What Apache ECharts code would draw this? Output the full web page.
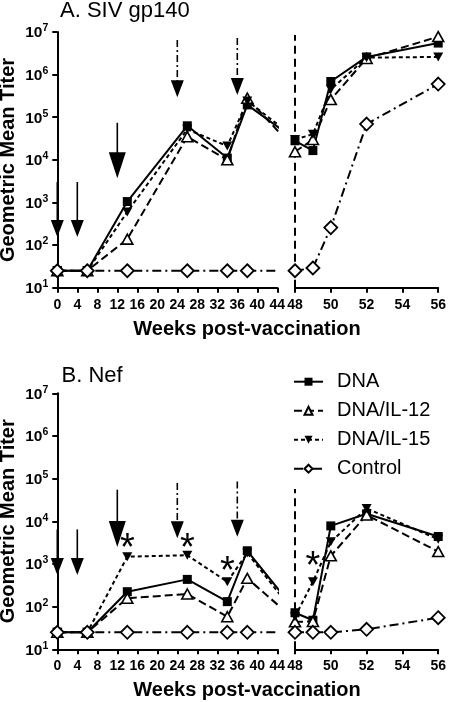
<!DOCTYPE html>
<html><head><meta charset="utf-8">
<script src="https://cdn.jsdelivr.net/npm/echarts@6/dist/echarts.min.js"></script>
<style>html,body{margin:0;padding:0;background:#fff}#c{width:449px;height:702px}</style>
</head><body><div id="c"></div>
<script>
// ---------- data ----------
const weeks = [0, 6, 14, 26, 34, 38, 48, 49, 50, 52, 56];
const seriesNames = ['DNA', 'DNA/IL-12', 'DNA/IL-15', 'Control'];

const gp140DNA     = [25, 25, 1050, 63000, 11000, 195000, 28000, 16500, 690000, 2600000, 5500000];
const gp140IL12    = [25, 25, 138, 35000, 10000, 280000, 15500, 30000, 260000, 2400000, 7800000];
const gp140IL15    = [25, 25, 600, 52000, 21000, 240000, 30000, 40000, 450000, 2500000, 2600000];
const gp140Control = [25, 25, 25, 25, 25, 25, 25, 29, 257, 69000, 600000];

const nefDNA     = [25, 25, 224, 435, 131, 2040, 72, 48, 7800, 15000, 4400];
const nefIL12    = [25, 25, 157, 198, 58, 460, 44, 45, 1550, 14000, 1950];
const nefIL15    = [25, 25, 1480, 1600, 383, 1800, 58, 383, 3300, 20000, 3800];
const nefControl = [25, 25, 25, 25, 25, 25, 25, 25, 25, 29.4, 55];

const xTicksLeft = [0, 4, 8, 12, 16, 20, 24, 28, 32, 36, 40, 44];
const xTicksRight = [48, 50, 52, 54, 56];
const yTickExponents = [1, 2, 3, 4, 5, 6, 7];

const vaccinationWeeks = [0, 4, 12, 24, 36];
const arrowKinds = ['thin', 'thin', 'big', 'dashed', 'dashed'];
const gp140ArrowTop = [3020, 3020, 74100, 6460000, 7240000];
const gp140ArrowTip = [155, 155, 3715, 295000, 331000];
const nefArrowTop = [6460, 6460, 55000, 79400, 85100];
const nefArrowTip = [550, 550, 2510, 3980, 4365];

const challengeWeek = 48;
const gp140ChallengeTop = 8500000;
const nefChallengeTop = 57500;

const nefStarWeeks = [14, 26, 34, 49];
const nefStarValues = [3630, 3630, 1050, 1350];

// ---------- styling ----------
const FONT = '"Liberation Sans", Arial, Helvetica, sans-serif';
const seriesStyle = {
  'DNA': {symbol: 'rect', symbolSize: 9, itemStyle: {color: '#000', borderColor: '#000', borderWidth: 0},
          lineStyle: {color: '#000', width: 2, type: 'solid'}},
  'DNA/IL-12': {symbol: 'triangle', symbolSize: [11, 10], itemStyle: {color: '#fff', borderColor: '#000', borderWidth: 1.6},
          lineStyle: {color: '#000', width: 2, type: [8, 4]}},
  'DNA/IL-15': {symbol: 'triangle', symbolRotate: 180, symbolSize: [10, 9], itemStyle: {color: '#000', borderColor: '#000', borderWidth: 0},
          lineStyle: {color: '#000', width: 2, type: [4, 3]}},
  'Control': {symbol: 'diamond', symbolSize: [13, 13], itemStyle: {color: '#fff', borderColor: '#000', borderWidth: 1.8},
          lineStyle: {color: '#000', width: 2, type: [9, 4, 2, 4]}}
};
const arrowStyle = {
  thin:   {headLen: 17, headW: 13, lw: 1.6, dash: null},
  big:    {headLen: 26, headW: 17, lw: 1.6, dash: null},
  dashed: {headLen: 17, headW: 13, lw: 1.6, dash: [7, 3, 2, 3]}
};

const grids = [
  {left: 57.3, top: 32, width: 220, height: 255.7},
  {left: 295, top: 32, width: 146.7, height: 255.7},
  {left: 57.3, top: 393.3, width: 220, height: 256},
  {left: 295, top: 393.3, width: 146.7, height: 256}
];

const axisLineStyle = {color: '#000', width: 2};
const xAxes = grids.map((g, i) => {
  const left = i % 2 === 0;
  const ticks = left ? xTicksLeft : xTicksRight;
  return {
    type: 'value', gridIndex: i, min: ticks[0], max: ticks[ticks.length - 1],
    interval: ticks[1] - ticks[0],
    axisLine: {show: true, lineStyle: axisLineStyle},
    axisTick: {show: true, length: 5, inside: false, lineStyle: {color: '#000', width: 2}},
    axisLabel: {show: true, margin: 10, fontSize: 14, fontWeight: 'bold', fontFamily: FONT, color: '#000',
                showMinLabel: true, showMaxLabel: true, hideOverlap: false},
    splitLine: {show: false}
  };
});
const yAxes = grids.map((g, i) => {
  const left = i % 2 === 0;
  return {
    type: 'log', logBase: 10, gridIndex: i,
    min: Math.pow(10, yTickExponents[0]), max: Math.pow(10, yTickExponents[yTickExponents.length - 1]),
    splitNumber: yTickExponents.length - 1,
    show: left,
    axisLine: {show: true, lineStyle: axisLineStyle},
    axisTick: {show: true, length: 5, lineStyle: {color: '#000', width: 2}},
    minorTick: {show: false},
    splitLine: {show: false},
    axisLabel: {
      margin: 9, color: '#000', fontFamily: FONT,
      formatter: v => '{b|10}{s|' + Math.round(Math.log10(v)) + '}',
      rich: {
        b: {fontSize: 15.5, fontWeight: 'bold', fontFamily: FONT, color: '#000', lineHeight: 18, verticalAlign: 'bottom'},
        s: {fontSize: 10.5, fontWeight: 'bold', fontFamily: FONT, color: '#000', lineHeight: 10, verticalAlign: 'top'}
      }
    }
  };
});

function lineSeries(name, values, gridIdx, left) {
  const pts = weeks.map((w, i) => [w, values[i]]).filter(p => left ? p[0] <= challengeWeek : p[0] >= challengeWeek);
  const st = seriesStyle[name];
  return Object.assign({
    type: 'line', name: name, xAxisIndex: gridIdx, yAxisIndex: gridIdx,
    data: pts, clip: true, showSymbol: true, showAllSymbol: true, animation: false,
    z: 3 + seriesNames.indexOf(name)
  }, JSON.parse(JSON.stringify(st)));
}

function panelSeries(vals, gLeft, gRight) {
  const out = [];
  seriesNames.forEach((n, k) => {
    out.push(lineSeries(n, vals[k], gLeft, true));
    out.push(lineSeries(n, vals[k], gRight, false));
  });
  return out;
}

function arrowSeries(gridIdx, tops, tips) {
  return {
    type: 'custom', xAxisIndex: gridIdx, yAxisIndex: gridIdx, silent: true, animation: false, z: 10,
    data: vaccinationWeeks.map((w, i) => [w, tops[i], tips[i], i]),
    encode: {x: 0, y: [1, 2]},
    renderItem: (params, api) => {
      const w = api.value(0);
      const p0 = api.coord([w, api.value(1)]);
      const p1 = api.coord([w, api.value(2)]);
      const st = arrowStyle[arrowKinds[api.value(3)]];
      const baseY = p1[1] - st.headLen;
      return {type: 'group', children: [
        {type: 'line', shape: {x1: p0[0], y1: p0[1], x2: p0[0], y2: baseY + 1},
         style: {stroke: '#000', lineWidth: st.lw, lineDash: st.dash}},
        {type: 'polygon', shape: {points: [[p1[0] - st.headW / 2, baseY], [p1[0] + st.headW / 2, baseY], [p1[0], p1[1]]]},
         style: {fill: '#000'}}
      ]};
    }
  };
}

function challengeSeries(gridIdx, top) {
  return {
    type: 'line', xAxisIndex: gridIdx, yAxisIndex: gridIdx, silent: true, animation: false, z: 2,
    data: [[challengeWeek, Math.pow(10, yTickExponents[0])], [challengeWeek, top]],
    symbol: 'none', lineStyle: {color: '#000', width: 2, type: [8, 5]}
  };
}

function starSeries(gridIdx, pts) {
  return {
    type: 'custom', xAxisIndex: gridIdx, yAxisIndex: gridIdx, silent: true, animation: false, z: 11,
    data: pts, encode: {x: 0, y: 1},
    renderItem: (params, api) => {
      const p = api.coord([api.value(0), api.value(1)]);
      return {type: 'text', x: p[0], y: p[1] + 9.5,
        style: {text: '*', fontSize: 38, fontFamily: FONT, fill: '#000', align: 'center', verticalAlign: 'middle'}};
    }
  };
}

const starPts = nefStarWeeks.map((w, i) => [w, nefStarValues[i]]);

const series = [].concat(
  [challengeSeries(1, gp140ChallengeTop), challengeSeries(3, nefChallengeTop)],
  panelSeries([gp140DNA, gp140IL12, gp140IL15, gp140Control], 0, 1),
  panelSeries([nefDNA, nefIL12, nefIL15, nefControl], 2, 3),
  [arrowSeries(0, gp140ArrowTop, gp140ArrowTip), arrowSeries(2, nefArrowTop, nefArrowTip)],
  [starSeries(2, starPts.filter(p => p[0] <= 44)), starSeries(3, starPts.filter(p => p[0] >= challengeWeek))]
);

const txt = (text, x, y, size, bold, opts) => Object.assign({
  type: 'text', x: x, y: y, silent: true,
  style: {text: text, fontSize: size, fontWeight: bold ? 'bold' : 'normal', fontFamily: FONT, fill: '#000',
          align: 'left', verticalAlign: 'middle'}
}, opts || {});

const option = {
  backgroundColor: '#fff',
  animation: false,
  grid: grids,
  xAxis: xAxes,
  yAxis: yAxes,
  legend: {
    data: seriesNames, orient: 'vertical', left: 293, top: 371.7, padding: 0,
    itemWidth: 29, itemHeight: 10, itemGap: 9, selectedMode: false,
    textStyle: {fontSize: 20, fontFamily: FONT, color: '#000', padding: [0, 0, 0, 9]}
  },
  graphic: [
    txt('A. SIV gp140', 60, 11, 22, false),
    txt('B. Nef', 61.5, 376, 22, false),
    (() => { const t = txt('Geometric Mean Titer', 8.3, 160, 20, true, {rotation: Math.PI / 2}); t.style.align = 'center'; return t; })(),
    (() => { const t = txt('Geometric Mean Titer', 8.3, 521.3, 20, true, {rotation: Math.PI / 2}); t.style.align = 'center'; return t; })(),
    (() => { const t = txt('Weeks post-vaccination', 247, 329.2, 20, true); t.style.align = 'center'; return t; })(),
    (() => { const t = txt('Weeks post-vaccination', 247, 690.2, 20, true); t.style.align = 'center'; return t; })()
  ],
  series: series
};

const chart = echarts.init(document.getElementById('c'), null, {renderer: 'canvas'});
chart.setOption(option);
</script>
</body></html>
